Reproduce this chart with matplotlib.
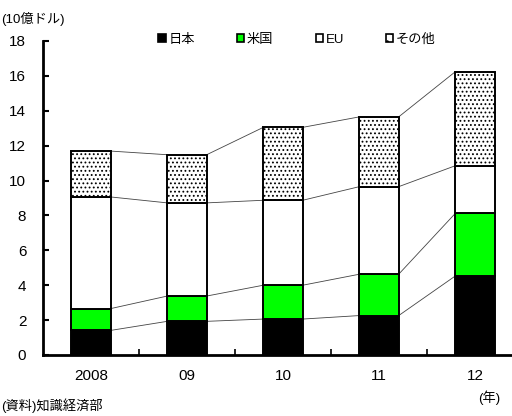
import matplotlib
matplotlib.use("Agg")
import matplotlib.pyplot as plt
import numpy as np
from matplotlib.patches import Patch

plt.rcParams['font.family'] = ['Liberation Sans', 'Noto Sans CJK JP', 'DejaVu Sans']
plt.rcParams['hatch.color'] = '#666666'
plt.rcParams['hatch.linewidth'] = 0.8

years = ['2008', '09', '10', '11', '12']
japan = [1.41, 1.93, 2.06, 2.26, 4.53]
usa = [1.25, 1.45, 1.94, 2.37, 3.59]
eu = [6.40, 5.34, 4.87, 5.02, 2.73]
other = [2.63, 2.76, 4.18, 4.00, 5.39]
series_names = ['日本', '米国', 'EU', 'その他']

fig = plt.figure(figsize=(5.12, 4.16), dpi=100)
ax = fig.add_axes([43/512, 61/416, 480/512, 314/416])

x = np.arange(len(years))
w = 0.41
data = [japan, usa, eu, other]
colors = ['black', '#00ff00', 'white', 'white']
hatches = [None, None, None, '....']
bottom = np.zeros(len(years))
tops = []
for vals, c, h in zip(data, colors, hatches):
    vals = np.array(vals)
    ax.bar(x, vals, w, bottom=bottom, color=c, edgecolor='black', linewidth=1.4,
           hatch=h, zorder=3)
    bottom = bottom + vals
    tops.append(bottom.copy())

for t in tops:
    for i in range(len(years) - 1):
        ax.plot([x[i] + w/2, x[i+1] - w/2], [t[i], t[i+1]], color='#444444',
                linewidth=0.6, zorder=2)

ax.set_xlim(-0.5, 4.5)
ax.set_ylim(0, 18)
ax.set_yticks(range(0, 19, 2))
ax.set_xticks(x)
ax.set_xticklabels(years)
ax.set_xticks(np.arange(0.5, 4.5, 1), minor=True)
ax.tick_params(axis='x', which='major', length=0, pad=10, labelsize=11)
ax.tick_params(axis='x', which='minor', direction='in', length=4, width=1.2)
ax.tick_params(axis='y', direction='in', length=4, width=1.5, labelsize=11, pad=12)
for s in ['top', 'right']:
    ax.spines[s].set_visible(False)
ax.spines['left'].set_linewidth(2)
ax.spines['bottom'].set_linewidth(2)

handles = [Patch(facecolor=c, edgecolor='black', hatch=('..' if h else None), linewidth=1.2)
           for c, h in zip(colors, hatches)]
fig.legend(handles, series_names, loc='center', bbox_to_anchor=(0.58, 0.905),
           ncol=4, frameon=False, fontsize=9.5, handlelength=0.55, handleheight=0.55,
           handletextpad=0.2, columnspacing=3.2)

fig.text(0.002, 0.955, '(10億ドル)', fontsize=9.5, ha='left', va='center')
fig.text(0.002, 0.025, '(資料)知識経済部', fontsize=9.5, ha='left', va='center')
fig.text(0.955, 0.045, '(年)', fontsize=9.5, ha='center', va='center')

fig.savefig('out.png', dpi=100)
